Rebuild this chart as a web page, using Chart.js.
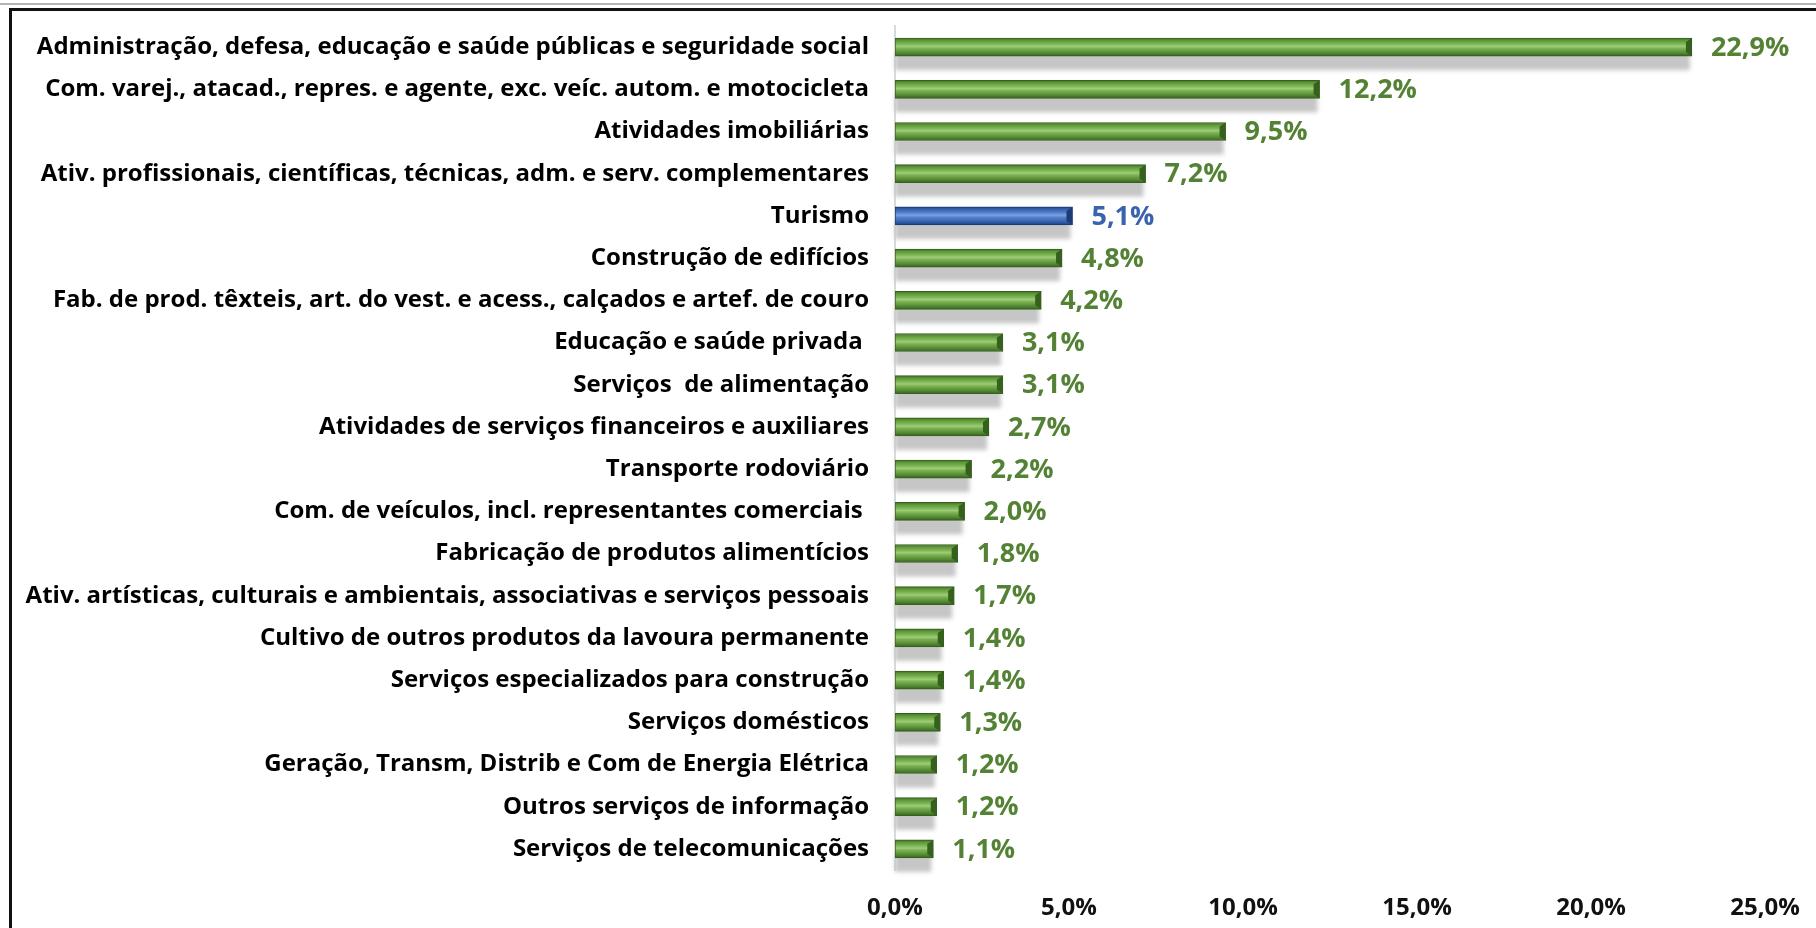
<!DOCTYPE html>
<html>
<head>
<meta charset="utf-8">
<script src="https://cdn.jsdelivr.net/npm/chart.js@4.4.1/dist/chart.umd.min.js"></script>
<style>
  html, body { margin: 0; padding: 0; background: #ffffff; }
  #wrap { position: relative; width: 1816px; height: 928px; overflow: hidden; }
  #c { position: absolute; left: 0; top: 0; }
  .ln { position: absolute; }
</style>
</head>
<body>
<div id="wrap">
  <div class="ln" style="left:0;top:3px;width:1816px;height:2px;background:#b4b4b4"></div>
  <div class="ln" style="left:9px;top:8px;width:1807px;height:3px;background:#111"></div>
  <div class="ln" style="left:9px;top:8px;width:3px;height:920px;background:#111"></div>
  <canvas id="c" width="1816" height="928"></canvas>
</div>
<script>
const categories = [
  'Administração, defesa, educação e saúde públicas e seguridade social',
  'Com. varej., atacad., repres. e agente, exc. veíc. autom. e motocicleta',
  'Atividades imobiliárias',
  'Ativ. profissionais, científicas, técnicas, adm. e serv. complementares',
  'Turismo',
  'Construção de edifícios',
  'Fab. de prod. têxteis, art. do vest. e acess., calçados e artef. de couro',
  'Educação e saúde privada ',
  'Serviços  de alimentação',
  'Atividades de serviços financeiros e auxiliares',
  'Transporte rodoviário',
  'Com. de veículos, incl. representantes comerciais ',
  'Fabricação de produtos alimentícios',
  'Ativ. artísticas, culturais e ambientais, associativas e serviços pessoais',
  'Cultivo de outros produtos da lavoura permanente',
  'Serviços especializados para construção',
  'Serviços domésticos',
  'Geração, Transm, Distrib e Com de Energia Elétrica',
  'Outros serviços de informação',
  'Serviços de telecomunicações'
];
const shares = [22.9, 12.2, 9.5, 7.2, 5.1, 4.8, 4.2, 3.1, 3.1, 2.7, 2.2, 2.0, 1.8, 1.7, 1.4, 1.4, 1.3, 1.2, 1.2, 1.1];
const highlighted = ['Turismo'];
const xTicks = [0, 5, 10, 15, 20, 25];

const fmt = v => Number(v).toFixed(1).replace('.', ',') + '%';
const isHi = i => highlighted.includes(categories[i]);

const GREEN_STOPS = [[0,'#416f25'],[0.14,'#5f983a'],[0.32,'#7db454'],[0.46,'#9dcd79'],[0.58,'#7cb152'],[0.82,'#558a36'],[1,'#37611e']];
const BLUE_STOPS  = [[0,'#24488c'],[0.14,'#3861ae'],[0.32,'#5480cc'],[0.46,'#7ca1e0'],[0.58,'#5682cc'],[0.82,'#3460ae'],[1,'#1f3f7a']];
const GREEN_EDGE = '#35601d';
const BLUE_EDGE = '#1d3b74';
const BAR_H = 18;

function barFill(c) {
  if (c.type !== 'data') return '#70ad47';
  const chart = c.chart;
  const ys = chart.scales && chart.scales.y;
  const stops = isHi(c.dataIndex) ? BLUE_STOPS : GREEN_STOPS;
  if (!ys || !chart.chartArea) return stops[3][1];
  const yc = ys.getPixelForValue(c.dataIndex);
  const g = chart.ctx.createLinearGradient(0, yc - BAR_H / 2, 0, yc + BAR_H / 2);
  stops.forEach(s => g.addColorStop(s[0], s[1]));
  return g;
}

// soft drop shadow below every bar, taken from the bar elements' geometry
const shadowPlugin = {
  id: 'barShadow',
  beforeDatasetsDraw(chart) {
    const ctx = chart.ctx;
    const meta = chart.getDatasetMeta(0);
    ctx.save();
    ctx.filter = 'blur(2px)';
    ctx.fillStyle = '#c6c6c6';
    meta.data.forEach(bar => {
      const h = bar.height;
      ctx.fillRect(bar.base, bar.y - h / 2 + 14, bar.x - bar.base - 2, h);
    });
    ctx.restore();
  }
};

// bevel at the bar end + value labels
const labelPlugin = {
  id: 'valueLabels',
  afterDatasetsDraw(chart) {
    const ctx = chart.ctx;
    const meta = chart.getDatasetMeta(0);
    ctx.save();
    meta.data.forEach((bar, i) => {
      const h = bar.height, top = bar.y - h / 2, bot = bar.y + h / 2;
      ctx.fillStyle = isHi(i) ? BLUE_EDGE : GREEN_EDGE;
      ctx.beginPath();
      ctx.moveTo(bar.x - 6, top + 4);
      ctx.lineTo(bar.x, top);
      ctx.lineTo(bar.x, bot);
      ctx.lineTo(bar.x - 6, bot - 4);
      ctx.closePath();
      ctx.fill();
    });
    ctx.font = 'bold 27px "Open Sans"';
    ctx.textBaseline = 'middle';
    ctx.textAlign = 'left';
    meta.data.forEach((bar, i) => {
      ctx.fillStyle = isHi(i) ? '#3a63ad' : '#548235';
      ctx.fillText(fmt(shares[i]), bar.x + 19, bar.y + 1);
    });
    ctx.restore();
  }
};

new Chart(document.getElementById('c'), {
  type: 'bar',
  data: {
    labels: categories,
    datasets: [{
      data: shares,
      backgroundColor: barFill,
      borderColor: c => isHi(c.dataIndex) ? BLUE_EDGE : GREEN_EDGE,
      borderWidth: 1,
      borderSkipped: false,
      barThickness: BAR_H
    }]
  },
  options: {
    indexAxis: 'y',
    responsive: false,
    animation: false,
    devicePixelRatio: 1,
    layout: { padding: { top: 26, right: 51, bottom: 0, left: 0 } },
    plugins: { legend: { display: false }, tooltip: { enabled: false } },
    scales: {
      x: {
        min: 0, max: 25,
        afterBuildTicks: s => { s.ticks = xTicks.map(v => ({ value: v })); },
        afterFit: s => { s.height = 58; s.paddingLeft = 0; s.paddingRight = 0; },
        grid: { display: false, drawTicks: false },
        border: { display: false },
        ticks: {
          padding: 24,
          color: '#111',
          font: { family: 'Open Sans', weight: 'bold', size: 24 },
          callback: v => fmt(v),
          maxRotation: 0
        }
      },
      y: {
        afterFit: s => { s.width = 895; s.paddingTop = 0; s.paddingBottom = 0; },
        grid: { display: false, drawTicks: false },
        border: { display: true, color: '#d9d9d9', width: 2 },
        ticks: {
          padding: 26,
          color: '#000',
          font: { family: 'Open Sans', weight: 'bold', size: 24 },
          autoSkip: false
        }
      }
    }
  },
  plugins: [shadowPlugin, labelPlugin]
});
</script>
</body>
</html>
